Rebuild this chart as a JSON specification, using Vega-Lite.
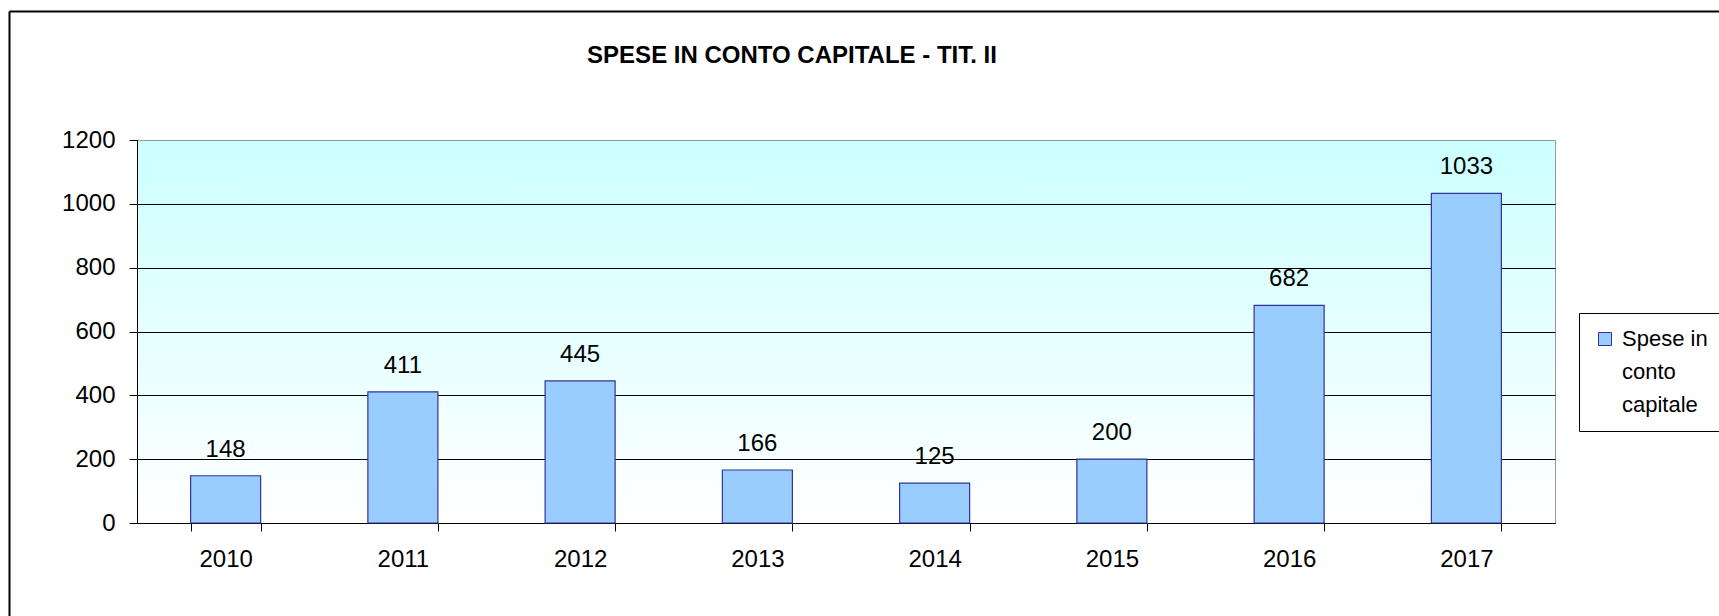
{
  "$schema": "https://vega.github.io/schema/vega-lite/v6.json",
  "width": 1418,
  "height": 383,
  "autosize": {"type": "none"},
  "padding": {"left": 137, "top": 140, "right": 164, "bottom": 93},
  "background": "white",
  "view": {
    "stroke": "#999999",
    "strokeWidth": 1,
    "fill": {"gradient": "linear", "x1": 0, "y1": 0, "x2": 0, "y2": 1,
      "stops": [{"offset": 0, "color": "#ccffff"}, {"offset": 1, "color": "#ffffff"}]}
  },
  "config": {
    "font": "Liberation Sans, Arial, sans-serif"
  },
  "title": {
    "text": "SPESE IN CONTO CAPITALE  - TIT. II",
    "anchor": "middle",
    "frame": "group",
    "baseline": "alphabetic",
    "dx": -54,
    "offset": -76,
    "fontSize": 24,
    "fontWeight": "bold",
    "font": "Liberation Sans, Arial, sans-serif",
    "color": "black"
  },
  "data": {
    "values": [
      {"anno": "2010", "valore": 148},
      {"anno": "2011", "valore": 411},
      {"anno": "2012", "valore": 445},
      {"anno": "2013", "valore": 166},
      {"anno": "2014", "valore": 125},
      {"anno": "2015", "valore": 200},
      {"anno": "2016", "valore": 682},
      {"anno": "2017", "valore": 1033}
    ]
  },
  "layer": [
    {
      "encoding": {
        "x": {
          "field": "anno",
          "type": "ordinal",
          "scale": {"paddingInner": 0.605, "paddingOuter": 0.3025},
          "axis": {
            "title": null,
            "labelAngle": 0,
            "labelFontSize": 24,
            "labelColor": "black",
            "labelPadding": 16,
            "domainColor": "black",
            "domainWidth": 1,
            "tickColor": "black",
            "tickSize": 8,
            "tickBand": "extent",
            "grid": false
          }
        }
      },
      "layer": [
        {
          "mark": {"type": "bar", "stroke": "#333399", "strokeWidth": 1.2},
          "encoding": {
            "y": {
              "field": "valore",
              "type": "quantitative",
              "scale": {"domain": [0, 1200], "nice": false},
              "axis": {
                "title": null,
                "values": [0, 200, 400, 600, 800, 1000, 1200],
                "format": "d",
                "labelFontSize": 24,
                "labelColor": "black",
                "labelPadding": 14,
                "domainColor": "black",
                "tickColor": "black",
                "tickSize": 8,
                "grid": true,
                "gridColor": {"condition": {"test": "datum.value == 1200", "value": "#999999"}, "value": "black"},
                "gridOpacity": 1,
                "gridWidth": 1
              }
            },
            "color": {
              "datum": "Spese in conto capitale",
              "type": "nominal",
              "scale": {"range": ["#99ccff"]},
              "legend": {
                "title": null,
                "orient": "none",
                "legendX": 1442,
                "legendY": 173,
                "symbolType": "square",
                "symbolSize": 169,
                "symbolStrokeColor": "#333399",
                "symbolStrokeWidth": 1,
                "symbolFillColor": "#99ccff",
                "labelFontSize": 22,
                "labelColor": "black",
                "labelBaseline": "top",
                "labelOffset": 6,
                "labelExpr": "['Spese in', 'conto', 'capitale']",
                "strokeColor": "black",
                "fillColor": "white",
                "padding": 15,
                "encoding": {
                  "labels": {"lineHeight": {"value": 33}, "dy": {"value": -10}}
                }
              }
            }
          }
        },
        {
          "mark": {"type": "text", "baseline": "alphabetic", "dy": -19, "fontSize": 24, "color": "black"},
          "encoding": {
            "y": {"field": "valore", "type": "quantitative"},
            "text": {"field": "valore", "type": "quantitative"}
          }
        }
      ]
    },
    {
      "mark": {"type": "point", "opacity": 0},
      "encoding": {
        "x": {
          "datum": 0,
          "type": "quantitative",
          "scale": {"domain": [0, 1], "range": [-128, 1620], "nice": false, "zero": false},
          "axis": {"orient": "top", "offset": 129, "title": null, "labels": false, "ticks": false, "grid": false, "domainColor": "black", "domainWidth": 2}
        },
        "y": {
          "datum": 0,
          "type": "quantitative",
          "scale": {"domain": [0, 1], "range": [520, -129], "nice": false, "zero": false},
          "axis": {"orient": "left", "offset": 128, "title": null, "labels": false, "ticks": false, "grid": false, "domainColor": "black", "domainWidth": 2}
        }
      }
    }
  ],
  "resolve": {
    "scale": {"x": "independent", "y": "independent"},
    "axis": {"x": "independent", "y": "independent"}
  }
}
